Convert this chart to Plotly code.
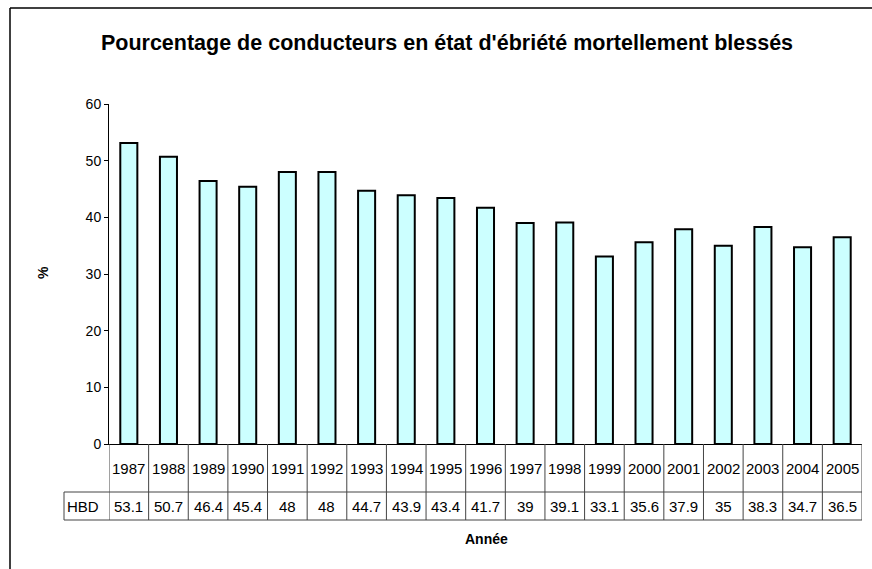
import plotly.graph_objects as go

years = ["1987", "1988", "1989", "1990", "1991", "1992", "1993", "1994", "1995", "1996",
         "1997", "1998", "1999", "2000", "2001", "2002", "2003", "2004", "2005"]
hbd = [53.1, 50.7, 46.4, 45.4, 48, 48, 44.7, 43.9, 43.4, 41.7,
       39, 39.1, 33.1, 35.6, 37.9, 35, 38.3, 34.7, 36.5]
series_name = "HBD"
title = "Pourcentage de conducteurs en état d'ébriété mortellement blessés"

W, H = 872, 569
L, R, T, B = 109, 862, 104, 444  # plot area in pixels
pw, ph = R - L, B - T

def px(xp):
    return (xp - L) / pw

def py(yp):
    return (B - yp) / ph

FONT = "Liberation Sans, Arial, sans-serif"
line_col = "#444444"

fig = go.Figure()
fig.add_trace(go.Bar(
    x=years, y=hbd, name=series_name,
    marker=dict(color="#CCFFFF", line=dict(color="black", width=2)),
    hoverinfo="x+y",
))

shapes = []
annotations = []
row1_bot = py(492)
row2_bot = py(520)
left_tab = px(64)

n = len(years)
for i in range(n + 1):
    shapes.append(dict(type="line", xref="x", yref="paper", x0=i - 0.5, x1=i - 0.5,
                       y0=0, y1=row2_bot, line=dict(color=line_col, width=1)))
shapes.append(dict(type="line", xref="paper", yref="paper", x0=left_tab, x1=1,
                   y0=row1_bot, y1=row1_bot, line=dict(color=line_col, width=1)))
shapes.append(dict(type="line", xref="paper", yref="paper", x0=left_tab, x1=1,
                   y0=row2_bot, y1=row2_bot, line=dict(color=line_col, width=1)))
shapes.append(dict(type="line", xref="paper", yref="paper", x0=left_tab, x1=left_tab,
                   y0=row1_bot, y1=row2_bot, line=dict(color=line_col, width=1)))
# outer chart frame (left and top edges visible)
shapes.append(dict(type="line", xref="paper", yref="paper", x0=px(10), x1=px(10),
                   y0=py(H + 20), y1=py(8), line=dict(color="black", width=1.5)))
shapes.append(dict(type="line", xref="paper", yref="paper", x0=px(10), x1=px(W + 20),
                   y0=py(8), y1=py(8), line=dict(color="black", width=1.5)))

for i, (yr, v) in enumerate(zip(years, hbd)):
    annotations.append(dict(x=i, y=py(468), xref="x", yref="paper", text=yr,
                            showarrow=False, xanchor="center", yanchor="middle",
                            font=dict(size=15, color="black", family=FONT)))
    annotations.append(dict(x=i, y=py(506), xref="x", yref="paper", text=f"{v:g}",
                            showarrow=False, xanchor="center", yanchor="middle",
                            font=dict(size=15, color="black", family=FONT)))
annotations.append(dict(x=px(83), y=py(506), xref="paper", yref="paper", text=series_name,
                        showarrow=False, xanchor="center", yanchor="middle",
                        font=dict(size=15, color="black", family=FONT)))
annotations.append(dict(x=px(486), y=py(539), xref="paper", yref="paper", text="<b>Année</b>",
                        showarrow=False, xanchor="center", yanchor="middle",
                        font=dict(size=14, color="black", family=FONT)))
annotations.append(dict(x=px(43), y=py(273), xref="paper", yref="paper", text="<b>%</b>",
                        showarrow=False, textangle=-90, xanchor="center", yanchor="middle",
                        font=dict(size=14, color="black", family=FONT)))

fig.update_layout(
    width=W, height=H,
    margin=dict(l=L, r=W - R, t=T, b=H - B, pad=0),
    paper_bgcolor="white", plot_bgcolor="white",
    title=dict(text="<b>" + title + "</b>", x=447 / W, xanchor="center",
               y=1 - 42 / H, yanchor="middle",
               font=dict(size=21.5, color="black", family=FONT)),
    showlegend=False,
    bargap=0.57,
    xaxis=dict(type="category", range=[-0.5, n - 0.5], showticklabels=False, ticks="",
               showline=True, linecolor="black", linewidth=1, showgrid=False, zeroline=False),
    yaxis=dict(range=[0, 60], dtick=10, tick0=0, ticks="outside", ticklen=4, tickcolor="black",
               showline=True, linecolor="black", linewidth=1, showgrid=False, zeroline=False,
               tickfont=dict(size=14, color="black", family=FONT)),
    shapes=shapes, annotations=annotations,
    font=dict(family=FONT, color="black"),
)

fig.write_html(
    "out.html",
    config={"displayModeBar": False},
    post_script="document.body.style.margin='0';document.body.style.overflow='hidden';",
)
